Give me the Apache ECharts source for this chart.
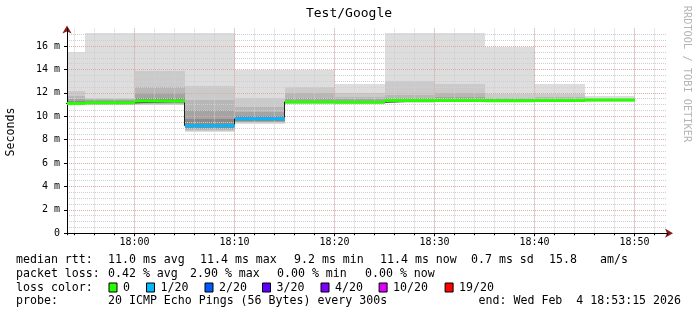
<!DOCTYPE html>
<html><head><meta charset="utf-8">
<script src="https://cdn.jsdelivr.net/npm/echarts@6/dist/echarts.min.js"></script>
<style>html,body{margin:0;padding:0;background:#fff}#c{width:697px;height:315px}</style>
</head><body><div id="c"></div>
<script>
// ---------------- data ----------------
const chartTitle = 'Test/Google';
const yAxisName = 'Seconds';
const sideNote = 'RRDTOOL / TOBI OETIKER';
const xStart = '17:53:15';
const xEnd = '18:53:15';
const stepMinutes = 5;
const endTimes = ['17:55','18:00','18:05','18:10','18:15','18:20','18:25','18:30','18:35','18:40','18:45','18:50'];
const medianMs = [11.10, 11.15, 11.30, 9.20, 9.78, 11.22, 11.20, 11.35, 11.35, 11.33, 11.35, 11.40];
const lossPings = [0, 0, 0, 1, 1, 0, 0, 0, 0, 0, 0, 0];
// smoke bands (outer -> inner), lo/hi in ms
const smoke1Lo = [10.95, 10.95, 10.95, 8.65, 9.38, 11.05, 11.05, 11.15, 11.20, 11.20, 11.20, 11.25];
const smoke1Hi = [15.50, 17.10, 17.10, 17.10, 14.00, 14.00, 12.80, 17.10, 17.10, 15.95, 12.75, 11.70];
const smoke2Lo = [10.97, 10.97, 11.00, 8.72, 9.45, 11.08, 11.07, 11.18, 11.22, 11.22, 11.22, 11.27];
const smoke2Hi = [12.15, 11.55, 13.90, 12.60, 11.55, 12.53, 12.00, 13.00, 12.75, 11.90, 11.90, 11.60];
const smoke3Lo = [11.00, 11.00, 11.05, 8.80, 9.50, 11.10, 11.10, 11.20, 11.25, 11.25, 11.25, 11.30];
const smoke3Hi = [11.70, 11.45, 12.53, 11.40, 10.80, 12.00, 11.68, 11.80, 11.97, 11.60, 11.62, 11.52];
const smoke4Lo = [11.02, 11.02, 11.10, 8.90, 9.55, 11.12, 11.12, 11.22, 11.27, 11.27, 11.28, 11.32];
const smoke4Hi = [11.45, 11.38, 11.97, 10.50, 10.40, 11.55, 11.45, 11.55, 11.62, 11.50, 11.50, 11.48];
const smoke5Lo = [11.05, 11.05, 11.15, 9.00, 9.60, 11.15, 11.15, 11.25, 11.30, 11.30, 11.30, 11.35];
const smoke5Hi = [11.35, 11.30, 11.60, 9.75, 10.05, 11.35, 11.30, 11.45, 11.45, 11.42, 11.43, 11.45];
const yMax = 17.5;
const lossLabels = ['0', '1/20', '2/20', '3/20', '4/20', '10/20', '19/20'];
const lossThresholds = [0, 1, 2, 3, 4, 10, 19];
const rttLegend = ['median rtt:', '11.0 ms avg', '11.4 ms max', '9.2 ms min', '11.4 ms now', '0.7 ms sd', '15.8', 'am/s'];
const lossLegend = ['packet loss:', '0.42 % avg', '2.90 % max', '0.00 % min', '0.00 % now'];
const lossColorTitle = 'loss color:';
const probeTitle = 'probe:';
const probeText = '20 ICMP Echo Pings (56 Bytes) every 300s';
const endText = 'end: Wed Feb  4 18:53:15 2026';

// ---------------- styles / layout ----------------
const lossColors = ['#26ff00', '#00b8ff', '#0059ff', '#5e00ff', '#7e00ff', '#dd00ff', '#ff0000'];
const smokeColors = ['#dddddd', '#cacaca', '#b7b7b7', '#a4a4a4', '#8a8a8a'];
const rttX = [16, 108, 200, 294, 380, 471, 549, 600];
const lossX = [16, 108, 190, 277, 365];
const boxX = [108.5, 146, 204.5, 262, 320.5, 378.6, 444.6];
const rowY = [260, 273.5, 287.5, 301];
const MONO = '"DejaVu Sans Mono", monospace';
const legendFont = '11.6px ' + MONO;

function toMin(s) { const p = s.split(':').map(Number); return p[0] * 60 + p[1] + (p[2] || 0) / 60; }
function fmtMin(v) { const h = Math.floor(v / 60), m = Math.round(v - h * 60); return String(h).padStart(2, '0') + ':' + String(m).padStart(2, '0'); }
function lossColor(n) { let c = lossColors[0]; for (let i = 0; i < lossThresholds.length; i++) if (n >= lossThresholds[i]) c = lossColors[i]; return c; }

const xMin = toMin(xStart), xMax = toMin(xEnd);
const tEnd = endTimes.map(toMin);
const smokeLo = [smoke1Lo, smoke2Lo, smoke3Lo, smoke4Lo, smoke5Lo];
const smokeHi = [smoke1Hi, smoke2Hi, smoke3Hi, smoke4Hi, smoke5Hi];

const smokeData = [];
for (let k = 0; k < smokeLo.length; k++) {
  for (let i = 0; i < tEnd.length; i++) {
    smokeData.push([tEnd[i] - stepMinutes, tEnd[i], smokeLo[k][i], smokeHi[k][i], k]);
  }
}
const bandData = tEnd.map((t, i) => [t - stepMinutes, t, medianMs[i], lossPings[i]]);
const lineData = [[tEnd[0] - stepMinutes, medianMs[0]]].concat(tEnd.map((t, i) => [t, medianMs[i]]));

function renderSmoke(params, api) {
  const a = api.coord([api.value(0), api.value(3)]);
  const b = api.coord([api.value(1), api.value(2)]);
  const x0 = Math.round(a[0]), x1 = Math.round(b[0]);
  const y0 = Math.round(a[1]), y1 = Math.round(b[1]);
  const shape = echarts.graphic.clipRectByRect({ x: x0, y: y0, width: x1 - x0, height: Math.max(y1 - y0, 0) }, params.coordSys);
  if (!shape) return;
  return { type: 'rect', shape: shape, style: { fill: smokeColors[api.value(4)] } };
}
function renderBand(params, api) {
  const a = api.coord([api.value(0), api.value(2)]);
  const b = api.coord([api.value(1), api.value(2)]);
  const x0 = Math.round(a[0]), x1 = Math.round(b[0]);
  const shape = echarts.graphic.clipRectByRect({ x: x0, y: a[1] - 1.5, width: x1 - x0, height: 3 }, params.coordSys);
  if (!shape) return;
  return { type: 'rect', shape: shape, style: { fill: lossColor(api.value(3)) } };
}

const majorRed = '#e2a8a8';
const minorGrey = '#cfcfcf';
const arrowRed = '#8b1a1a';

const chart = echarts.init(document.getElementById('c'), null, { renderer: 'canvas' });

const graphics = [];
graphics.push({ type: 'text', x: 349, y: 14, style: { text: chartTitle, font: '13px ' + MONO, fill: '#000', align: 'center', verticalAlign: 'middle', textAlign: 'center', textVerticalAlign: 'middle' } });
graphics.push({ type: 'text', x: 11, y: 132, rotation: Math.PI / 2, style: { text: yAxisName, font: legendFont, fill: '#000', align: 'center', verticalAlign: 'middle', textAlign: 'center', textVerticalAlign: 'middle' } });
graphics.push({ type: 'text', x: 687, y: 74, rotation: -Math.PI / 2, style: { text: sideNote, font: '10.3px ' + MONO, fill: '#b4b4b4', align: 'center', verticalAlign: 'middle', textAlign: 'center', textVerticalAlign: 'middle' } });
function addText(t, x, y, align) {
  graphics.push({ type: 'text', x: x, y: y, style: { text: t, font: legendFont, fill: '#000', align: align || 'left', verticalAlign: 'middle', textAlign: align || 'left', textVerticalAlign: 'middle' } });
}
rttLegend.forEach((t, i) => addText(t, rttX[i], rowY[0]));
lossLegend.forEach((t, i) => addText(t, lossX[i], rowY[1]));
addText(lossColorTitle, 16, rowY[2]);
lossLabels.forEach((t, i) => {
  graphics.push({ type: 'rect', shape: { x: boxX[i] + 0.5, y: rowY[2] - 4.5, width: 8, height: 9 }, style: { fill: lossColors[i], stroke: '#000', lineWidth: 1 } });
  addText(t, boxX[i] + 14.5, rowY[2]);
});
addText(probeTitle, 16, rowY[3]);
addText(probeText, 108, rowY[3]);
addText(endText, 681, rowY[3], 'right');

const commonX = { type: 'value', min: xMin, max: xMax, position: 'bottom', gridIndex: 0 };
const commonY = { type: 'value', min: 0, max: yMax, position: 'left', gridIndex: 0 };

chart.setOption({
  animation: false,
  backgroundColor: '#ffffff',
  grid: { left: 67, right: 30, top: 28.6, bottom: 81.8, containLabel: false, outerBoundsMode: 'none' },
  xAxis: [
    Object.assign({}, commonX, { // major
      z: 4, minInterval: 10, maxInterval: 10,
      axisLine: { show: true, onZero: false, lineStyle: { color: '#000', width: 1 } },
      axisTick: { show: true, length: 3, lineStyle: { color: '#000' } },
      axisLabel: { show: true, margin: 4, formatter: fmtMin, fontFamily: MONO, fontSize: 10, color: '#000', showMinLabel: false, showMaxLabel: false },
      splitLine: { show: true, showMinLine: false, showMaxLine: false, lineStyle: { color: majorRed, type: [1, 1], width: 1 } }
    }),
    Object.assign({}, commonX, { // minor
      z: 3, minInterval: 2, maxInterval: 2,
      axisLine: { show: false, onZero: false },
      axisTick: { show: true, length: 2, lineStyle: { color: '#000' } },
      axisLabel: { show: false },
      splitLine: { show: true, showMinLine: false, showMaxLine: false, lineStyle: { color: minorGrey, type: [1, 1], width: 1 } }
    }),
    Object.assign({}, commonX, { // arrow
      z: 1,
      axisLine: { show: true, onZero: false, symbol: ['none', 'arrow'], symbolSize: [7, 8], symbolOffset: [0, 6], lineStyle: { color: arrowRed, width: 1 } },
      axisTick: { show: false }, axisLabel: { show: false }, splitLine: { show: false }
    })
  ],
  yAxis: [
    Object.assign({}, commonY, { // major
      z: 4, minInterval: 2, maxInterval: 2,
      axisLine: { show: true, onZero: false, lineStyle: { color: '#000', width: 1 } },
      axisTick: { show: true, length: 3, lineStyle: { color: '#000' } },
      axisLabel: { show: true, margin: 7, formatter: v => (v === 0 ? '0' : v + ' m'), fontFamily: MONO, fontSize: 10, color: '#000', showMinLabel: true, showMaxLabel: false },
      splitLine: { show: true, showMinLine: false, showMaxLine: false, lineStyle: { color: majorRed, type: [1, 1], width: 1 } }
    }),
    Object.assign({}, commonY, { // minor
      z: 3, minInterval: 0.5, maxInterval: 0.5,
      axisLine: { show: false, onZero: false },
      axisTick: { show: false },
      axisLabel: { show: false },
      splitLine: { show: true, showMinLine: false, showMaxLine: false, lineStyle: { color: minorGrey, type: [1, 1], width: 1 } }
    }),
    Object.assign({}, commonY, { // arrow
      z: 1,
      axisLine: { show: true, onZero: false, symbol: ['none', 'arrow'], symbolSize: [7, 8], symbolOffset: [0, 3], lineStyle: { color: arrowRed, width: 1 } },
      axisTick: { show: false }, axisLabel: { show: false }, splitLine: { show: false }
    })
  ],
  series: [
    { type: 'custom', name: 'smoke', xAxisIndex: 0, yAxisIndex: 0, z: 2, silent: true,
      renderItem: renderSmoke, encode: { x: [0, 1], y: [2, 3] }, data: smokeData },
    { type: 'line', name: 'median', xAxisIndex: 0, yAxisIndex: 0, z: 5, step: 'start', symbol: 'none', silent: true,
      lineStyle: { color: '#202020', width: 1 }, data: lineData },
    { type: 'custom', name: 'loss', xAxisIndex: 0, yAxisIndex: 0, z: 6, silent: true,
      renderItem: renderBand, encode: { x: [0, 1], y: 2 }, data: bandData }
  ],
  graphic: graphics
});
</script>
</body></html>
